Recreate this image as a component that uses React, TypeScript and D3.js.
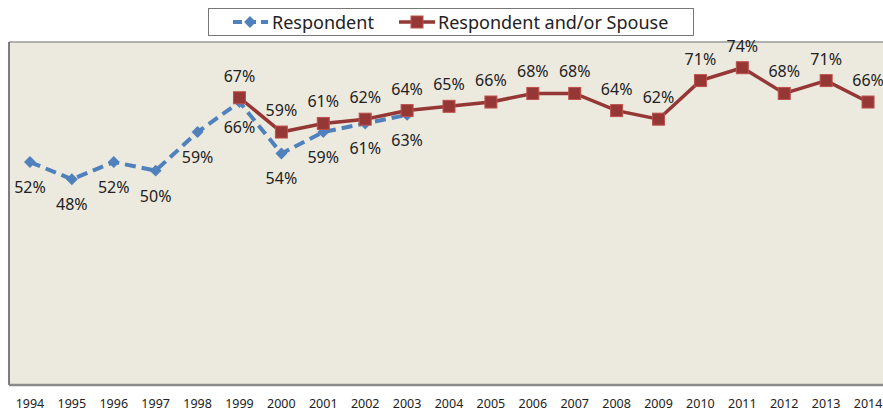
import React from 'react';
import * as d3 from 'd3';

const years = ['1994', '1995', '1996', '1997', '1998', '1999', '2000', '2001', '2002', '2003', '2004',
    '2005', '2006', '2007', '2008', '2009', '2010', '2011', '2012', '2013', '2014'];

// Respondent only (1994 - 2003)
const respondentYears = ['1994', '1995', '1996', '1997', '1998', '1999', '2000', '2001', '2002', '2003'];
const respondentValues = [52, 48, 52, 50, 59, 66, 54, 59, 61, 63];

// Respondent and/or Spouse (1999 - 2014)
const spouseYears = ['1999', '2000', '2001', '2002', '2003', '2004', '2005', '2006', '2007', '2008',
    '2009', '2010', '2011', '2012', '2013', '2014'];
const spouseValues = [67, 59, 61, 62, 64, 65, 66, 68, 68, 64, 62, 71, 74, 68, 71, 66];

const legendLabels = ['Respondent', 'Respondent and/or Spouse'];

const W = 883;
const H = 412;
const plot = { left: 9, top: 42, right: 889, bottom: 385 };

const BLUE = '#4F81BD';
const RED = '#953735';
const RED_EDGE = '#C0504D';
const FONT = '"Noto Sans", sans-serif';

export default function App() {
    const x = d3.scaleBand<string>().domain(years).range([plot.left, plot.right]);
    const y = d3.scaleLinear().domain([0, 80]).range([plot.bottom, plot.top]);
    const cx = (yr: string) => (x(yr) ?? 0) + x.bandwidth() / 2;

    const resp = respondentYears.map((yr, i) => ({ yr, v: respondentValues[i] }));
    const spouse = spouseYears.map((yr, i) => ({ yr, v: spouseValues[i] }));

    const line = d3.line<{ yr: string; v: number }>().x(d => cx(d.yr)).y(d => y(d.v));
    const diamond = d3.symbol().type(d3.symbolDiamond2).size(90)() as string;

    return (
        <div style={{ position: 'absolute', left: 0, top: 0 }}>
            <svg width={W} height={H} style={{ display: 'block' }}>
                <rect x={0} y={0} width={W} height={H} fill="#ffffff" />
                {/* plot area */}
                <rect x={plot.left} y={plot.top} width={plot.right - plot.left} height={plot.bottom - plot.top}
                    fill="#ECE9DF" />
                <line x1={plot.left} x2={W} y1={plot.top} y2={plot.top} stroke="#9A9A9A" strokeWidth={1.5} />
                <line x1={plot.left} x2={plot.left} y1={plot.top} y2={plot.bottom} stroke="#555" strokeWidth={1.5} />
                <line x1={plot.left} x2={W} y1={plot.bottom} y2={plot.bottom} stroke="#8A8A8A" strokeWidth={2.5} />

                {/* x tick labels */}
                {years.map(yr => (
                    <text key={yr} x={cx(yr)} y={403} textAnchor="middle" dominantBaseline="central"
                        fontFamily={FONT} fontSize={12.5} fill="#222">{yr}</text>
                ))}

                {/* Respondent series */}
                <path d={line(resp) ?? ''} fill="none" stroke={BLUE} strokeWidth={4}
                    strokeDasharray="11 6" />
                {resp.map(d => (
                    <path key={d.yr} d={diamond} transform={`translate(${cx(d.yr)},${y(d.v)})`} fill={BLUE} />
                ))}

                {/* Respondent and/or Spouse series */}
                <path d={line(spouse) ?? ''} fill="none" stroke={RED} strokeWidth={3.5} />
                {spouse.map(d => (
                    <rect key={d.yr} x={cx(d.yr) - 6} y={y(d.v) - 6} width={12} height={12}
                        fill={RED} stroke={RED_EDGE} strokeWidth={1} />
                ))}

                {/* data labels */}
                {resp.map(d => (
                    <text key={'rl' + d.yr} x={cx(d.yr)} y={y(d.v) + 25} textAnchor="middle"
                        dominantBaseline="central" fontFamily={FONT} fontSize={16} fill="#222">{d.v}%</text>
                ))}
                {spouse.map(d => (
                    <text key={'sl' + d.yr} x={cx(d.yr)} y={y(d.v) - 22} textAnchor="middle"
                        dominantBaseline="central" fontFamily={FONT} fontSize={16} fill="#222">{d.v}%</text>
                ))}

                {/* legend */}
                <rect x={208.5} y={8.5} width={485} height={27} fill="#fff" stroke="#777" strokeWidth={1} />
                <line x1={233} x2={268} y1={22} y2={22} stroke={BLUE} strokeWidth={4} strokeDasharray="9 5" />
                <path d={diamond} transform="translate(250,22)" fill={BLUE} />
                <text x={272} y={22} dominantBaseline="central" fontFamily={FONT} fontSize={18} fill="#222">
                    {legendLabels[0]}
                </text>
                <line x1={399} x2={435} y1={22} y2={22} stroke={RED} strokeWidth={3.5} />
                <rect x={411} y={16} width={12} height={12} fill={RED} stroke={RED_EDGE} strokeWidth={1} />
                <text x={438} y={22} dominantBaseline="central" fontFamily={FONT} fontSize={18} fill="#222">
                    {legendLabels[1]}
                </text>
            </svg>
        </div>
    );
}
